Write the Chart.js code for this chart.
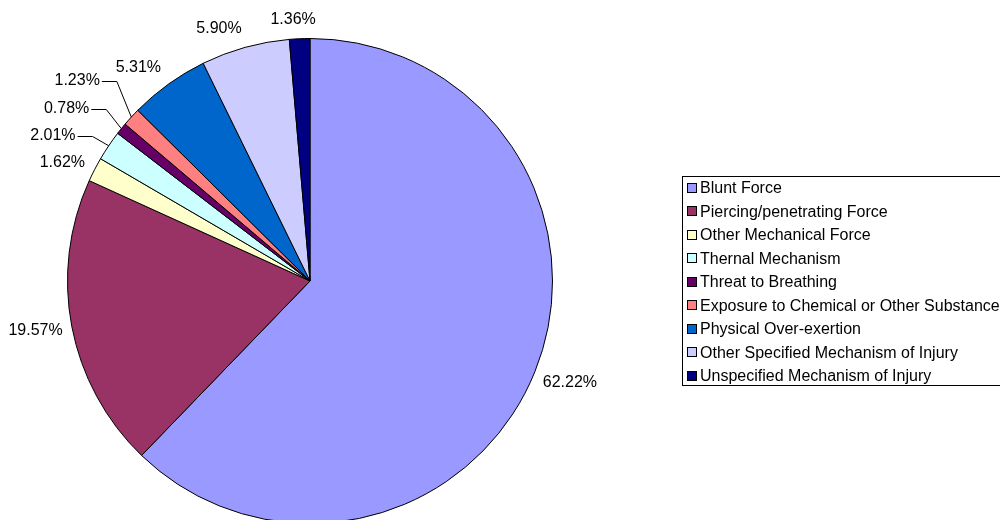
<!DOCTYPE html>
<html>
<head>
<meta charset="utf-8">
<script src="https://cdn.jsdelivr.net/npm/chart.js@4/dist/chart.umd.min.js"></script>
<style>
  html, body { margin: 0; padding: 0; background: #fff; }
  #wrap { width: 1000px; height: 520px; overflow: hidden; position: relative; }
  canvas { display: block; }
</style>
</head>
<body>
<div id="wrap"><canvas id="pie" width="1000" height="540"></canvas></div>
<script>
// Injury mechanism shares (percent of cases)
const categories = [
  'Blunt Force',
  'Piercing/penetrating Force',
  'Other Mechanical Force',
  'Thernal Mechanism',
  'Threat to Breathing',
  'Exposure to Chemical or Other Substance',
  'Physical Over-exertion',
  'Other Specified Mechanism of Injury',
  'Unspecified Mechanism of Injury'
];
const shares = [62.22, 19.57, 1.62, 2.01, 0.78, 1.23, 5.31, 5.90, 1.36];

const sliceColors = ['#9999FF', '#993366', '#FFFFCC', '#CCFFFF', '#660066',
                     '#FF8080', '#0066CC', '#CCCCFF', '#000080'];

// Percent label placement: distance from centre (in radii), angular nudge (deg),
// and whether a leader line connects the label to its slice.
const labelDistance = [1.151, 1.150, 1.132, 1.218, 1.230, 1.267, 1.130, 1.107, 1.081];
const labelNudge    = [-0.6, 0.5, -1.8, -4.4, -3.6, -1.8, -3.1, -4.3, -1.25];
const labelLeader   = [false, false, false, true, true, true, false, false, false];

const FONT = '16px "Liberation Sans", Arial, sans-serif';

const pieLabels = {
  id: 'pieLabels',
  afterDatasetsDraw(chart) {
    const ctx = chart.ctx;
    const meta = chart.getDatasetMeta(0);
    ctx.save();
    ctx.font = FONT;
    ctx.fillStyle = '#000';
    ctx.textAlign = 'center';
    ctx.textBaseline = 'middle';
    meta.data.forEach((arc, i) => {
      const p = arc.getProps(['x', 'y', 'startAngle', 'endAngle', 'outerRadius'], true);
      const mid = (p.startAngle + p.endAngle) / 2;
      const a = mid + labelNudge[i] * Math.PI / 180;
      const d = p.outerRadius * labelDistance[i];
      const tx = p.x + Math.cos(a) * d;
      const ty = p.y + Math.sin(a) * d;
      const text = shares[i].toFixed(2) + '%';
      ctx.fillText(text, tx, ty);
      if (labelLeader[i]) {
        const w = ctx.measureText(text).width;
        const x0 = tx + w / 2 + 2;
        const x1 = x0 + 15;
        const ex = p.x + Math.cos(mid) * p.outerRadius;
        const ey = p.y + Math.sin(mid) * p.outerRadius;
        ctx.beginPath();
        ctx.strokeStyle = '#000';
        ctx.lineWidth = 1;
        ctx.moveTo(x0, Math.round(ty) + 0.5);
        ctx.lineTo(x1, Math.round(ty) + 0.5);
        ctx.lineTo(ex, ey);
        ctx.stroke();
      }
    });
    ctx.restore();
  }
};

const boxLegend = {
  id: 'boxLegend',
  afterDraw(chart) {
    const ctx = chart.ctx;
    const left = 682.5, top = 176.5, rowH = 23.5;
    const n = chart.data.labels.length;
    ctx.save();
    ctx.strokeStyle = '#000';
    ctx.lineWidth = 1;
    ctx.strokeRect(left, top, 340, 209);
    ctx.font = FONT;
    ctx.textAlign = 'left';
    ctx.textBaseline = 'middle';
    const colors = chart.data.datasets[0].backgroundColor;
    for (let i = 0; i < n; i++) {
      const cy = 188 + i * rowH;
      const sy = Math.round(cy - 4.5) - 0.5;
      ctx.fillStyle = colors[i];
      ctx.fillRect(687.5, sy, 9, 9);
      ctx.strokeRect(687.5, sy, 9, 9);
      ctx.fillStyle = '#000';
      ctx.fillText(chart.data.labels[i], 700, cy + 1);
    }
    ctx.restore();
  }
};

new Chart(document.getElementById('pie'), {
  type: 'pie',
  data: {
    labels: categories,
    datasets: [{
      data: shares,
      backgroundColor: sliceColors,
      borderColor: '#000',
      borderWidth: 1
    }]
  },
  options: {
    responsive: false,
    animation: false,
    devicePixelRatio: 1,
    layout: { padding: { left: 67, right: 447, top: 38, bottom: 16 } },
    plugins: {
      legend: { display: false },
      tooltip: { enabled: false }
    }
  },
  plugins: [pieLabels, boxLegend]
});
</script>
</body>
</html>
